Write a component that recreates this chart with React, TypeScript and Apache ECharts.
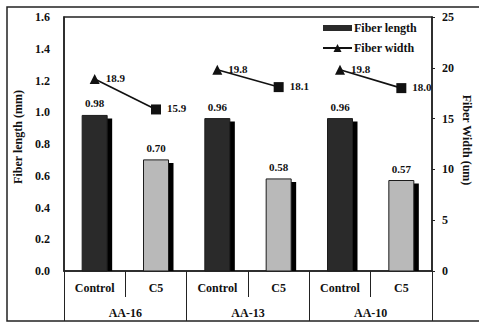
import React, { useEffect, useRef } from "react";
import * as echarts from "echarts";

// Treatments shown inside each pulp group, and the groups themselves
const treatments = ["Control", "C5", "Control", "C5", "Control", "C5"];
const groups = ["AA-16", "AA-13", "AA-10"];

// Fiber length (mm), one value per treatment column
const fiberLength = [0.98, 0.7, 0.96, 0.58, 0.96, 0.57];
// Fiber width (um), one pair (Control, C5) per group
const fiberWidthAA16 = [18.9, 15.9];
const fiberWidthAA13 = [19.8, 18.1];
const fiberWidthAA10 = [19.8, 18.0];

// Axis ranges
const lengthTicks = { min: 0, max: 1.6, interval: 0.2 };
const widthTicks = { min: 0, max: 25, interval: 5 };

const SERIF = '"Liberation Serif", "Times New Roman", serif';
const INK = "#111";
const faceColors: Record<string, string> = { Control: "#2a2a2a", C5: "#b9b9b9" };

// Legend swatch for the bars: a thin band inside a taller item box
const BAR_SWATCH = "path://M0,0L0.01,0ZM0,2H29V8H0ZM0,10L0.01,10Z";

function widthSeries(values: number[], groupIndex: number) {
  const start = groupIndex * 2;
  return {
    type: "line",
    name: "Fiber width",
    yAxisIndex: 1,
    symbol: "triangle",
    symbolSize: 10,
    lineStyle: { color: INK, width: 1.6 },
    itemStyle: { color: INK },
    label: {
      show: true,
      position: "right",
      distance: 6,
      offset: [0, -1],
      formatter: (p: any) => Number(p.value[1]).toFixed(1),
      fontFamily: SERIF,
      fontWeight: "bold",
      fontSize: 11,
      color: INK,
    },
    data: [
      { value: [start, values[0]] },
      { value: [start + 1, values[1]], symbol: "rect", symbolSize: 10 },
    ],
  };
}

export default function App() {
  const ref = useRef<HTMLDivElement>(null);

  useEffect(() => {
    if (!ref.current) return;
    const chart = echarts.init(ref.current, undefined, { renderer: "svg" });

    const barData = fiberLength.map((v, i) => [i, v]);

    const option: any = {
      animation: false,
      backgroundColor: "#fff",
      grid: {
        left: 64,
        top: 17,
        right: 47,
        bottom: 53,
        show: true,
        borderColor: "#222",
        borderWidth: 1.5,
      },
      legend: {
        orient: "vertical",
        left: 322,
        top: 22,
        padding: 0,
        itemWidth: 29,
        itemHeight: 10,
        itemGap: 8,
        textStyle: { fontFamily: SERIF, fontWeight: "bold", fontSize: 12, color: INK, padding: [0, 0, 0, -3] },
        data: [
          { name: "Fiber length", icon: BAR_SWATCH },
          { name: "Fiber width" },
        ],
      },
      xAxis: [
        {
          type: "category",
          data: treatments,
          position: "bottom",
          offset: 0,
          axisLine: { show: true, lineStyle: { color: "#222", width: 1.5 } },
          axisTick: { show: true, interval: 0, length: 26, lineStyle: { color: "#222", width: 1 } },
          axisLabel: {
            interval: 0,
            margin: 11,
            fontFamily: SERIF,
            fontWeight: "bold",
            fontSize: 12,
            color: INK,
          },
        },
        {
          type: "category",
          data: groups,
          position: "bottom",
          offset: 0,
          axisLine: { show: false },
          axisTick: { show: true, interval: 0, length: 50, lineStyle: { color: "#222", width: 1 } },
          axisLabel: {
            interval: 0,
            margin: 36,
            fontFamily: SERIF,
            fontWeight: "bold",
            fontSize: 12,
            color: INK,
          },
        },
      ],
      yAxis: [
        {
          type: "value",
          position: "left",
          ...lengthTicks,
          axisLine: { show: true, lineStyle: { color: "#222", width: 1.5 } },
          axisTick: { show: false },
          splitLine: { show: false },
          axisLabel: {
            margin: 14,
            formatter: (v: number) => v.toFixed(1),
            fontFamily: SERIF,
            fontWeight: "bold",
            fontSize: 12,
            color: INK,
          },
        },
        {
          type: "value",
          position: "right",
          ...widthTicks,
          axisLine: { show: true, lineStyle: { color: "#222", width: 1.5 } },
          axisTick: { show: true, length: 3, lineStyle: { color: "#222" } },
          splitLine: { show: false },
          axisLabel: {
            margin: 10,
            fontFamily: SERIF,
            fontWeight: "bold",
            fontSize: 12,
            color: INK,
          },
        },
      ],
      series: [
        {
          type: "custom",
          name: "Fiber length",
          xAxisIndex: 0,
          yAxisIndex: 0,
          itemStyle: { color: faceColors.Control },
          encode: { x: 0, y: 1 },
          data: barData,
          renderItem: (params: any, api: any) => {
            const idx = api.value(0);
            const v = api.value(1);
            const top = api.coord([idx, v]);
            const base = api.coord([idx, 0]);
            const w = 25;
            const depth = 5;
            const drop = 3;
            const face = faceColors[treatments[idx]];
            return {
              type: "group",
              children: [
                {
                  type: "rect",
                  shape: { x: top[0] - w / 2 + depth, y: top[1] + drop, width: w, height: base[1] - top[1] - drop },
                  style: { fill: "#000" },
                },
                {
                  type: "rect",
                  shape: { x: top[0] - w / 2, y: top[1], width: w, height: base[1] - top[1] },
                  style: { fill: face, stroke: "#1c1c1c", lineWidth: 1 },
                },
                {
                  type: "text",
                  x: top[0],
                  y: top[1] - 12,
                  style: {
                    text: v.toFixed(2),
                    align: "center",
                    verticalAlign: "middle",
                    fill: INK,
                    font: `bold 11px ${SERIF}`,
                  },
                },
              ],
            };
          },
        },
        widthSeries(fiberWidthAA16, 0),
        widthSeries(fiberWidthAA13, 1),
        widthSeries(fiberWidthAA10, 2),
      ],
      graphic: [
        {
          type: "rect",
          shape: { x: 7, y: 7, width: 490, height: 314 },
          style: { fill: "none", stroke: "#222", lineWidth: 1.5 },
          silent: true,
        },
        {
          type: "text",
          x: 18,
          y: 137,
          rotation: Math.PI / 2,
          style: {
            text: "Fiber length (mm)",
            align: "center",
            verticalAlign: "middle",
            fill: INK,
            font: `bold 12px ${SERIF}`,
          },
        },
        {
          type: "text",
          x: 467,
          y: 140,
          rotation: -Math.PI / 2,
          style: {
            text: "Fiber Width (um)",
            align: "center",
            verticalAlign: "middle",
            fill: INK,
            font: `bold 12px ${SERIF}`,
          },
        },
      ],
    };

    chart.setOption(option);
    return () => chart.dispose();
  }, []);

  return (
    <div
      ref={ref}
      style={{ position: "fixed", left: 0, top: 0, width: 479, height: 324 }}
    />
  );
}
